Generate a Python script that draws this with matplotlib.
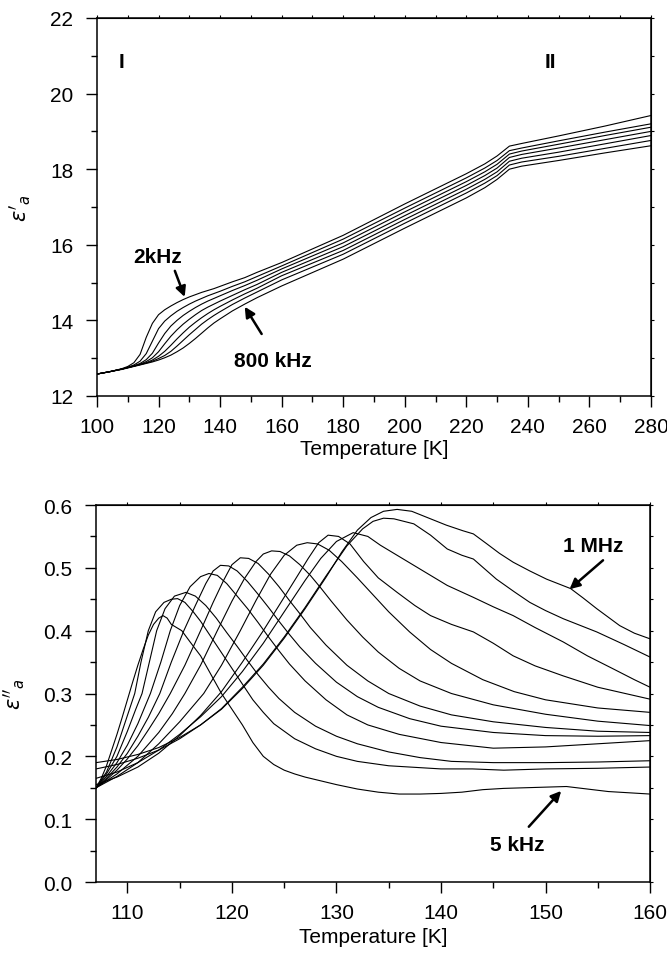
import matplotlib
matplotlib.use("Agg")
import matplotlib.pyplot as plt

plt.rcParams['font.family'] = ['Liberation Sans', 'DejaVu Sans']
plt.rcParams['mathtext.fontset'] = 'dejavusans'

# ---------------- top panel data: eps'_a vs T (2 kHz ... 800 kHz) ----------------
top_T = [100, 104, 108, 110, 112, 114, 116, 118, 120, 122, 124, 126, 128, 130, 132, 134, 136, 138,
         140, 144, 148, 152, 160, 180, 200, 220, 226, 230, 234, 238, 250, 265, 280]
top_c1 = [12.58, 12.64, 12.72, 12.78, 12.88, 13.10, 13.55, 13.92, 14.15, 14.28, 14.38, 14.47, 14.55,
          14.62, 14.68, 14.74, 14.79, 14.84, 14.90, 15.02, 15.13, 15.27, 15.53, 16.25, 17.08, 17.88,
          18.14, 18.35, 18.61, 18.68, 18.88, 19.14, 19.42]
top_c2 = [12.58, 12.64, 12.71, 12.76, 12.82, 12.92, 13.12, 13.45, 13.78, 13.98, 14.12, 14.24, 14.34,
          14.43, 14.51, 14.58, 14.65, 14.71, 14.77, 14.90, 15.02, 15.16, 15.44, 16.15, 16.97, 17.77,
          18.03, 18.23, 18.49, 18.56, 18.75, 18.98, 19.20]
top_c3 = [12.58, 12.64, 12.71, 12.75, 12.80, 12.86, 12.96, 13.13, 13.40, 13.65, 13.85, 14.00, 14.13,
          14.24, 14.34, 14.43, 14.51, 14.58, 14.65, 14.79, 14.92, 15.06, 15.36, 16.05, 16.87, 17.67,
          17.93, 18.13, 18.40, 18.48, 18.66, 18.89, 19.11]
top_c4 = [12.58, 12.64, 12.71, 12.75, 12.79, 12.84, 12.91, 13.01, 13.17, 13.38, 13.58, 13.75, 13.90,
          14.03, 14.15, 14.26, 14.35, 14.43, 14.51, 14.66, 14.81, 14.95, 15.27, 15.95, 16.77, 17.57,
          17.83, 18.03, 18.31, 18.39, 18.56, 18.78, 19.00]
top_c5 = [12.58, 12.64, 12.71, 12.75, 12.79, 12.83, 12.88, 12.95, 13.05, 13.18, 13.34, 13.51, 13.67,
          13.82, 13.95, 14.07, 14.18, 14.28, 14.37, 14.54, 14.70, 14.85, 15.18, 15.85, 16.67, 17.47,
          17.73, 17.93, 18.21, 18.29, 18.45, 18.67, 18.89]
top_c6 = [12.58, 12.64, 12.71, 12.75, 12.79, 12.83, 12.87, 12.92, 12.99, 13.07, 13.18, 13.32, 13.47,
          13.62, 13.76, 13.90, 14.02, 14.13, 14.23, 14.42, 14.59, 14.75, 15.07, 15.75, 16.57, 17.37,
          17.63, 17.83, 18.11, 18.19, 18.34, 18.55, 18.76]
top_c7 = [12.58, 12.64, 12.70, 12.74, 12.78, 12.82, 12.86, 12.90, 12.95, 13.01, 13.08, 13.17, 13.27,
          13.39, 13.52, 13.66, 13.80, 13.93, 14.04, 14.25, 14.43, 14.60, 14.91, 15.62, 16.44, 17.24,
          17.51, 17.73, 18.00, 18.08, 18.23, 18.43, 18.62]
top_curves = [top_c1, top_c2, top_c3, top_c4, top_c5, top_c6, top_c7]

# ---------------- bottom panel data: eps''_a vs T (5 kHz ... 1 MHz) ----------------
b1_T = [107, 107.5, 108, 108.5, 109, 109.5, 110, 110.5, 111, 111.5, 112, 112.5, 113, 113.4, 113.8,
        114.2, 114.7, 115.2, 116, 117, 118, 119, 120, 121, 122, 123, 124, 125, 126, 127, 128, 130,
        132, 134, 136, 138, 140, 142, 144, 146, 148, 150, 152, 154, 156, 158, 160]
b1_v = [0.15, 0.165, 0.185, 0.21, 0.235, 0.262, 0.29, 0.318, 0.345, 0.37, 0.393, 0.41, 0.42, 0.424,
        0.42, 0.41, 0.405, 0.40, 0.382, 0.36, 0.33, 0.30, 0.275, 0.25, 0.222, 0.20, 0.187, 0.178,
        0.172, 0.167, 0.163, 0.155, 0.148, 0.143, 0.14, 0.14, 0.141, 0.143, 0.147, 0.149, 0.15,
        0.151, 0.152, 0.148, 0.144, 0.142, 0.14]
b2_T = [107, 108, 109, 109.5, 110, 110.7, 111.3, 112, 112.7, 113.5, 114.2, 114.8, 115.5, 116.3, 117,
        118, 119, 120, 121, 122, 123, 124, 125, 126, 128, 130, 132, 135, 138, 140, 143, 146, 150,
        155, 160]
b2_v = [0.15, 0.175, 0.215, 0.24, 0.265, 0.30, 0.35, 0.40, 0.43, 0.445, 0.45, 0.451, 0.445, 0.43,
        0.415, 0.39, 0.365, 0.34, 0.315, 0.29, 0.27, 0.252, 0.24, 0.228, 0.212, 0.20, 0.192, 0.185,
        0.182, 0.18, 0.18, 0.178, 0.18, 0.181, 0.183]
b3_T = [107, 108, 109, 110, 110.8, 111.4, 112.1, 112.8, 113.6, 114.5, 115.6, 116.5, 117.5, 118.5,
        119.5, 120.5, 121.5, 122.5, 123.5, 124.5, 126, 128, 130, 132, 135, 138, 141, 145, 150, 155,
        160]
b3_v = [0.15, 0.172, 0.20, 0.24, 0.275, 0.30, 0.35, 0.40, 0.435, 0.455, 0.461, 0.455, 0.44, 0.42,
        0.397, 0.375, 0.352, 0.33, 0.31, 0.292, 0.27, 0.248, 0.232, 0.22, 0.207, 0.198, 0.192, 0.19,
        0.19, 0.191, 0.193]
b4_T = [107, 108, 109, 110, 111, 112.2, 113.2, 114.1, 115, 116, 117, 117.8, 118.6, 119.5, 120.5,
        121.5, 122.5, 123.5, 124.5, 125.5, 127, 129, 131, 133, 136, 140, 145, 150, 155, 160]
b4_v = [0.15, 0.168, 0.19, 0.218, 0.252, 0.30, 0.35, 0.40, 0.44, 0.47, 0.486, 0.491, 0.488, 0.475,
        0.455, 0.435, 0.413, 0.39, 0.368, 0.347, 0.32, 0.29, 0.266, 0.25, 0.235, 0.222, 0.213,
        0.215, 0.22, 0.225]
b5_T = [107, 108, 109, 110, 111, 112, 113.1, 114.2, 115.4, 116.5, 117.5, 118.2, 118.9, 119.7, 120.5,
        121.5, 122.5, 123.5, 124.5, 125.5, 126.5, 128, 130, 132, 134, 137, 140, 145, 150, 155, 160]
b5_v = [0.15, 0.165, 0.183, 0.205, 0.232, 0.262, 0.30, 0.35, 0.40, 0.44, 0.475, 0.495, 0.504, 0.503,
        0.495, 0.478, 0.458, 0.437, 0.415, 0.394, 0.374, 0.348, 0.318, 0.295, 0.278, 0.26, 0.248,
        0.238, 0.233, 0.232, 0.233]
b6_T = [107, 108, 109, 110, 111, 112, 113, 114.1, 115.5, 117, 118.2, 119.2, 120, 120.8, 121.6, 122.5,
        123.5, 124.5, 125.5, 126.5, 127.5, 129, 131, 133, 135, 138, 141, 145, 150, 155, 160]
b6_v = [0.15, 0.163, 0.178, 0.196, 0.217, 0.242, 0.268, 0.30, 0.345, 0.40, 0.445, 0.48, 0.505, 0.516,
        0.515, 0.507, 0.49, 0.47, 0.448, 0.427, 0.405, 0.377, 0.345, 0.32, 0.30, 0.28, 0.266, 0.255,
        0.246, 0.24, 0.238]
b7_T = [107, 109, 111, 113, 114.3, 115.5, 117, 118.6, 120, 121.2, 122.3, 123, 123.8, 124.6, 125.5,
        126.5, 127.5, 128.5, 129.5, 131, 132.5, 134, 136, 138, 141, 145, 150, 155, 160]
b7_v = [0.15, 0.172, 0.20, 0.238, 0.268, 0.30, 0.345, 0.40, 0.447, 0.483, 0.51, 0.522, 0.527, 0.526,
        0.519, 0.505, 0.488, 0.468, 0.447, 0.417, 0.39, 0.366, 0.34, 0.32, 0.30, 0.282, 0.267,
        0.256, 0.249]
b8_T = [107, 109, 111, 113, 115, 117.3, 119, 120.8, 122.3, 123.7, 125, 126.2, 127.2, 128.2, 129.3,
        130.5, 132, 133.5, 135, 137, 139, 141, 144, 147, 150, 155, 160]
b8_v = [0.15, 0.168, 0.19, 0.22, 0.255, 0.30, 0.345, 0.40, 0.448, 0.49, 0.52, 0.536, 0.54, 0.538,
        0.528, 0.51, 0.484, 0.457, 0.43, 0.398, 0.37, 0.348, 0.322, 0.303, 0.29, 0.277, 0.27]
b9_T = [107, 109, 111, 113, 115, 117, 119, 121, 123, 124.5, 126, 127.3, 128.3, 129.2, 130.2, 131.3,
        132.6, 134, 135.8, 137.5, 139, 141, 143.1, 145, 146.9, 149, 151.7, 155, 160]
b9_v = [0.155, 0.167, 0.183, 0.205, 0.233, 0.265, 0.303, 0.35, 0.40, 0.44, 0.48, 0.515, 0.54, 0.552,
        0.55, 0.538, 0.51, 0.484, 0.461, 0.44, 0.424, 0.41, 0.398, 0.38, 0.36, 0.344, 0.328, 0.31,
        0.291]
b10_T = [107, 109, 111, 113, 115, 117, 119, 121, 123, 125, 127, 128.5, 130, 131.6, 133, 134.2,
         135.8, 137.4, 139, 140.6, 143.1, 145, 146.9, 149, 151.7, 154, 156.5, 158.5, 160]
b10_v = [0.165, 0.175, 0.19, 0.21, 0.235, 0.263, 0.295, 0.335, 0.38, 0.43, 0.48, 0.515, 0.542,
         0.556, 0.55, 0.536, 0.52, 0.504, 0.488, 0.472, 0.453, 0.438, 0.424, 0.405, 0.382, 0.36,
         0.339, 0.322, 0.31]
b11_T = [107, 109, 111, 113, 115, 117, 119, 121, 123, 125, 127, 129, 131, 132.5, 133.5, 134.5, 135.5,
         137.4, 139, 140.6, 142, 143.1, 145.3, 147, 148.5, 150, 151.7, 154.9, 157.5, 160]
b11_v = [0.18, 0.187, 0.197, 0.21, 0.228, 0.25, 0.276, 0.31, 0.347, 0.39, 0.437, 0.487, 0.535,
         0.562, 0.574, 0.579, 0.578, 0.57, 0.552, 0.53, 0.52, 0.514, 0.482, 0.462, 0.445, 0.432,
         0.419, 0.398, 0.378, 0.358]
b12_T = [107, 109, 111, 113, 115, 117, 119, 121, 123, 125, 127, 129, 130.5, 132, 133.3, 134.5, 135.8,
         137.2, 139, 140.5, 142.1, 143.1, 144.4, 145.6, 146.9, 148.5, 150.1, 152.4, 153.6, 154.9,
         157.1, 158.5, 160]
b12_v = [0.19, 0.195, 0.203, 0.214, 0.23, 0.25, 0.275, 0.308, 0.345, 0.388, 0.435, 0.485, 0.525,
         0.56, 0.58, 0.59, 0.593, 0.59, 0.578, 0.568, 0.559, 0.554, 0.538, 0.523, 0.509, 0.495,
         0.482, 0.467, 0.452, 0.435, 0.408, 0.396, 0.387]
bottom_T = [b1_T, b2_T, b3_T, b4_T, b5_T, b6_T, b7_T, b8_T, b9_T, b10_T, b11_T, b12_T]
bottom_v = [b1_v, b2_v, b3_v, b4_v, b5_v, b6_v, b7_v, b8_v, b9_v, b10_v, b11_v, b12_v]

# ---------------- figure ----------------
fig = plt.figure(figsize=(6.67, 9.54), dpi=100)
ax1 = fig.add_axes([0.1454, 0.5839, 0.8306, 0.3962])
ax2 = fig.add_axes([0.1440, 0.0744, 0.8306, 0.3952])

LW = 0.8
for vals in top_curves:
    ax1.plot(top_T, vals, color='black', lw=LW)
for T, v in zip(bottom_T, bottom_v):
    ax2.plot(T, v, color='black', lw=LW)

FS = 15

def style(ax, xlim, ylim, xminor, yminor, xticks, yticks, yfmt, xlabelpad):
    ax.set_xlim(*xlim)
    ax.set_ylim(*ylim)
    ax.set_xticks(xticks)
    ax.set_xticklabels([str(t) for t in xticks])
    ax.set_xticks(xminor, minor=True)
    ax.set_yticks(yticks)
    ax.set_yticks(yminor, minor=True)
    ax.set_yticklabels([yfmt.format(t) for t in yticks])
    ax.tick_params(axis='both', which='major', direction='out', length=8, width=1.0,
                   labelsize=FS)
    ax.tick_params(axis='x', which='major', pad=7)
    ax.tick_params(axis='y', which='major', pad=9)
    ax.tick_params(axis='both', which='minor', direction='out', length=4, width=1.0)
    for s in ax.spines.values():
        s.set_linewidth(1.1)
    sx = ax.secondary_xaxis('top')
    sx.set_xticks(xminor)
    sx.tick_params(direction='out', length=2, width=0.8, labeltop=False)
    sy = ax.secondary_yaxis('right')
    sy.set_yticks(yminor)
    sy.tick_params(direction='out', length=2, width=0.8, labelright=False)
    ax.set_xlabel('Temperature [K]', fontsize=FS, labelpad=xlabelpad)

style(ax1, (100, 280), (12, 22), list(range(100, 281, 10)), list(range(12, 23, 1)),
      [100, 120, 140, 160, 180, 200, 220, 240, 260, 280], [12, 14, 16, 18, 20, 22], "{:g}", 2)
ax1.set_ylabel(r"$\varepsilon'_{a}$", fontsize=FS, labelpad=12)

style(ax2, (107, 160), (0.0, 0.6), list(range(110, 161, 5)), [i * 0.05 for i in range(13)],
      [110, 120, 130, 140, 150, 160], [0.0, 0.1, 0.2, 0.3, 0.4, 0.5, 0.6], "{:.1f}", 4)
ax2.set_ylabel(r"$\varepsilon''_{a}$", fontsize=FS, labelpad=12)

# annotations top
ax1.text(108.1, 20.84, "I", fontsize=FS, fontweight='bold', ha='center', va='center')
ax1.text(247.4, 20.86, "II", fontsize=FS, fontweight='bold', ha='center', va='center')
arrow = dict(arrowstyle='-|>,head_length=0.6,head_width=0.3', color='black', lw=1.8,
             shrinkA=0, shrinkB=0)
ax1.text(119.8, 15.68, "2kHz", fontsize=FS, fontweight='bold', ha='center', va='center')
ax1.annotate("", xy=(128.5, 14.62), xytext=(125.3, 15.31), arrowprops=arrow)
ax1.text(157, 12.93, "800 kHz", fontsize=FS, fontweight='bold', ha='center', va='center')
ax1.annotate("", xy=(148, 14.36), xytext=(153.5, 13.64), arrowprops=arrow)

# annotations bottom
ax2.text(154.6, 0.536, "1 MHz", fontsize=FS, fontweight='bold', ha='center', va='center')
ax2.annotate("", xy=(152.3, 0.466), xytext=(155.5, 0.512), arrowprops=arrow)
ax2.text(147.3, 0.06, "5 kHz", fontsize=FS, fontweight='bold', ha='center', va='center')
ax2.annotate("", xy=(151.5, 0.145), xytext=(148.4, 0.088), arrowprops=arrow)

fig.savefig("out.png", dpi=100)
